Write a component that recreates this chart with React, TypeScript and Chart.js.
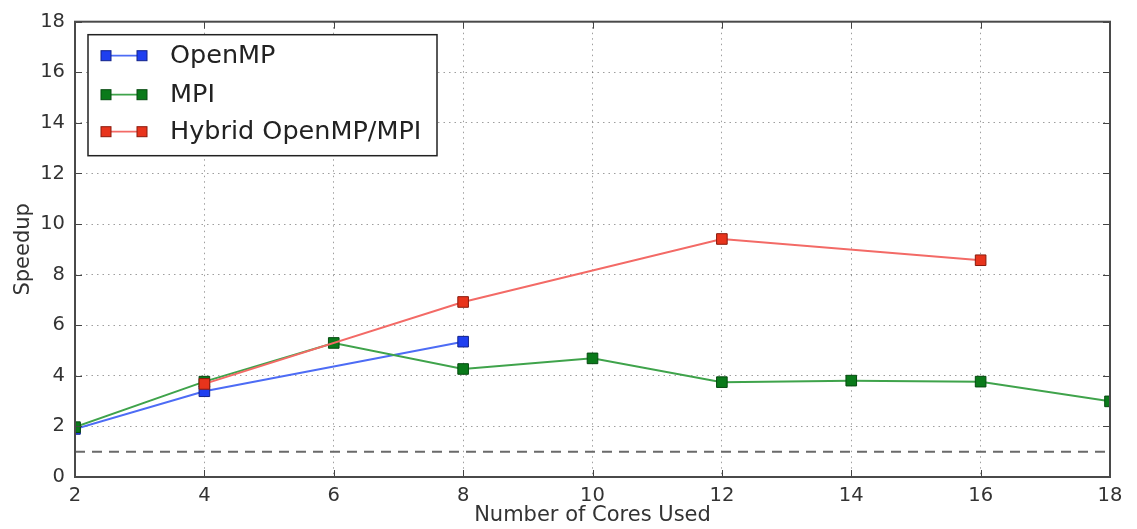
import React, { useEffect, useRef } from "react";
import { Chart, registerables } from "chart.js";

Chart.register(...registerables);

// ---- data ----
const openmpCores = [2, 4, 8];
const openmpSpeedup = [1.9, 3.39, 5.35];
const mpiCores = [2, 4, 6, 8, 10, 12, 14, 16, 18];
const mpiSpeedup = [1.97, 3.77, 5.3, 4.27, 4.69, 3.75, 3.81, 3.77, 2.99];
const hybridCores = [4, 8, 12, 16];
const hybridSpeedup = [3.68, 6.92, 9.41, 8.57];
const baselineCores = [2, 18];
const baselineSpeedup = [1, 1];
const xTickValues = [2, 4, 6, 8, 10, 12, 14, 16, 18];
const yTickValues = [0, 2, 4, 6, 8, 10, 12, 14, 16, 18];
const seriesLabels = ["OpenMP", "MPI", "Hybrid OpenMP/MPI"];
const xTitle = "Number of Cores Used";
const yTitle = "Speedup";

const FONT = "'DejaVu Sans', 'Liberation Sans', sans-serif";

const series = [
  { line: "#4d6cf5", fill: "#1f3ff0", edge: "#12228a" },
  { line: "#3fa34b", fill: "#0a7a1a", edge: "#064a10" },
  { line: "#f36a66", fill: "#e8341c", edge: "#8a1a0c" },
];

const toPoints = (xs: number[], ys: number[]) => xs.map((x, i) => ({ x, y: ys[i] }));

const frameAndLegend = {
  id: "frameAndLegend",
  afterDraw(chart: any) {
    const { ctx, chartArea: ca, scales } = chart;
    ctx.save();
    // inner ticks
    ctx.strokeStyle = "#444";
    ctx.lineWidth = 1;
    const tl = 7;
    for (const v of xTickValues) {
      const px = Math.round(scales.x.getPixelForValue(v)) + 0.5;
      ctx.beginPath();
      ctx.moveTo(px, ca.bottom);
      ctx.lineTo(px, ca.bottom - tl);
      ctx.moveTo(px, ca.top);
      ctx.lineTo(px, ca.top + tl);
      ctx.stroke();
    }
    for (const v of yTickValues) {
      const py = Math.round(scales.y.getPixelForValue(v)) + 0.5;
      ctx.beginPath();
      ctx.moveTo(ca.left, py);
      ctx.lineTo(ca.left + tl, py);
      ctx.moveTo(ca.right, py);
      ctx.lineTo(ca.right - tl, py);
      ctx.stroke();
    }
    // spines
    ctx.strokeStyle = "#4a4a4a";
    ctx.lineWidth = 2;
    ctx.strokeRect(ca.left, ca.top, ca.right - ca.left, ca.bottom - ca.top);

    // legend
    const lx = ca.left + 13;
    const ly = ca.top + 13;
    const lw = 349;
    const lh = 121;
    ctx.fillStyle = "#ffffff";
    ctx.fillRect(lx, ly, lw, lh);
    ctx.strokeStyle = "#222";
    ctx.lineWidth = 1.5;
    ctx.strokeRect(lx, ly, lw, lh);
    const rows = [21, 60, 97];
    ctx.font = `25.5px ${FONT}`;
    ctx.textBaseline = "middle";
    ctx.textAlign = "left";
    seriesLabels.forEach((label, i) => {
      const cy = ly + rows[i];
      const s = series[i];
      ctx.strokeStyle = s.line;
      ctx.lineWidth = 1.8;
      ctx.beginPath();
      ctx.moveTo(lx + 14, cy);
      ctx.lineTo(lx + 58, cy);
      ctx.stroke();
      for (const mx of [lx + 18, lx + 54]) {
        ctx.fillStyle = s.fill;
        ctx.fillRect(mx - 5, cy - 5, 10, 10);
        ctx.strokeStyle = s.edge;
        ctx.lineWidth = 1;
        ctx.strokeRect(mx - 5, cy - 5, 10, 10);
      }
      ctx.fillStyle = "#222";
      ctx.fillText(label, lx + 82, cy + 1);
    });
    ctx.restore();
  },
};

export default function App() {
  const ref = useRef<HTMLCanvasElement | null>(null);
  useEffect(() => {
    if (!ref.current) return;
    const mk = (i: number, label: string, xs: number[], ys: number[]) => ({
      label,
      data: toPoints(xs, ys),
      borderColor: series[i].line,
      borderWidth: 2,
      pointStyle: "rect" as const,
      pointRadius: 7.5,
      pointBackgroundColor: series[i].fill,
      pointBorderColor: series[i].edge,
      pointBorderWidth: 1,
      tension: 0,
      order: 3 - i,
    });
    const chart = new Chart(ref.current, {
      type: "line",
      data: {
        datasets: [
          mk(0, seriesLabels[0], openmpCores, openmpSpeedup),
          mk(1, seriesLabels[1], mpiCores, mpiSpeedup),
          mk(2, seriesLabels[2], hybridCores, hybridSpeedup),
          {
            label: "baseline",
            data: toPoints(baselineCores, baselineSpeedup),
            borderColor: "#6a6a6a",
            borderWidth: 2,
            borderDash: [10, 7],
            pointRadius: 0,
            order: 4,
          } as any,
        ],
      },
      options: {
        responsive: false,
        animation: false,
        layout: { padding: { top: 19, right: 27, left: 0, bottom: 0 } },
        plugins: { legend: { display: false }, tooltip: { enabled: false } },
        scales: {
          x: {
            type: "linear",
            min: 2,
            max: 18,
            afterBuildTicks: (s: any) => {
              s.ticks = xTickValues.map((v) => ({ value: v }));
            },
            afterFit: (s: any) => {
              s.height = 52;
            },
            ticks: {
              font: { family: FONT, size: 19.5 },
              color: "#333",
              padding: 7,
              maxRotation: 0,
            },
            grid: {
              color: "rgba(0,0,0,0.38)",
              lineWidth: 1,
              drawTicks: false,
            },
            border: { display: false, dash: [1.5, 4] },
            title: {
              display: true,
              text: xTitle,
              font: { family: FONT, size: 21 },
              color: "#333",
              padding: { top: 0, bottom: 1 },
            },
          },
          y: {
            type: "linear",
            min: 0,
            max: 18,
            afterBuildTicks: (s: any) => {
              s.ticks = yTickValues.map((v) => ({ value: v }));
            },
            afterFit: (s: any) => {
              s.width = 75;
            },
            ticks: {
              font: { family: FONT, size: 19.5 },
              color: "#333",
              padding: 10,
            },
            grid: {
              color: "rgba(0,0,0,0.38)",
              lineWidth: 1,
              drawTicks: false,
            },
            border: { display: false, dash: [1.5, 4] },
            title: {
              display: true,
              text: yTitle,
              font: { family: FONT, size: 21 },
              color: "#333",
              padding: { top: 11, bottom: 0 },
            },
          },
        },
      },
      plugins: [frameAndLegend],
    });
    return () => chart.destroy();
  }, []);
  return (
    <div style={{ position: "fixed", left: 0, top: 0, width: 1137, height: 529, background: "#fff" }}>
      <canvas ref={ref} width={1137} height={529} style={{ display: "block" }} />
    </div>
  );
}
